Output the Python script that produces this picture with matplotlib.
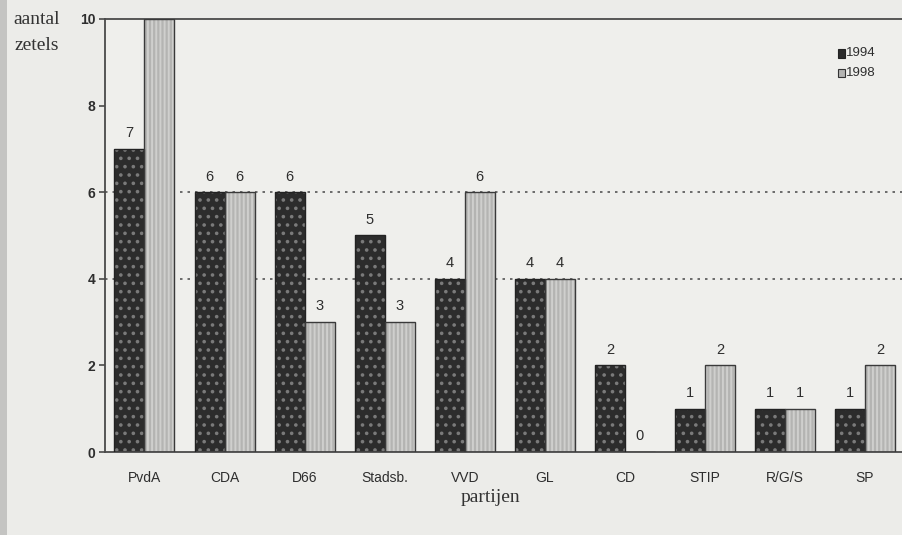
import numpy as np
import matplotlib
matplotlib.use("Agg")
import matplotlib.pyplot as plt
from matplotlib.patches import Rectangle

# seats per party, gemeenteraad 1994 vs 1998
partijen = ["PvdA", "CDA", "D66", "Stadsb.", "VVD", "GL", "CD", "STIP", "R/G/S", "SP"]
zetels_1994 = [7, 6, 6, 5, 4, 4, 2, 1, 1, 1]
zetels_1998 = [10, 6, 3, 3, 6, 4, 0, 2, 1, 2]
yticks = [0, 2, 4, 6, 8, 10]

bg = "#ecece9"
dark = "#2c2c2c"
light = "#b4b4b2"
line = "#4a4a4a"
txt = "#2e2e2e"

plt.rcParams["font.family"] = ["Liberation Sans", "DejaVu Sans"]
plt.rcParams["hatch.linewidth"] = 1.4

fig = plt.figure(figsize=(9.03, 5.35), dpi=100, facecolor=bg)
ax = fig.add_axes([105 / 903, 1 - 452 / 535, 1 - 105 / 903, (452 - 19) / 535])
ax.set_facecolor("#efefec")

x = np.arange(len(partijen))
w = 0.375

# dotted grid lines (only 4 and 6 show in the scan)
for g in [4, 6]:
    ax.axhline(g, color="#555555", lw=1.2, ls=(0, (1.5, 3)), zorder=1)

# dark bars with light dots
ax.bar(x - w / 2, zetels_1994, w, color=dark, edgecolor="#7a7a7a", hatch="..", lw=0, zorder=2)
ax.bar(x - w / 2, zetels_1994, w, fill=False, edgecolor="#222222", lw=1.0, zorder=3)
# light bars with fine stripes
ax.bar(x + w / 2, zetels_1998, w, color=light, edgecolor="#cfcfcd", hatch="||||", lw=0, zorder=2)
ax.bar(x + w / 2, zetels_1998, w, fill=False, edgecolor="#3a3a3a", lw=1.0, zorder=3)

for xi, v in zip(x, zetels_1994):
    ax.text(xi - w / 2, v + 0.2, str(v), ha="center", va="bottom", fontsize=10.5, color=txt)
for xi, v in zip(x, zetels_1998):
    if v < 10:
        ax.text(xi + w / 2, v + 0.2, str(v), ha="center", va="bottom", fontsize=10.5, color=txt)

ax.set_xlim(-0.493, 9.474)
ax.set_ylim(0, 10)
ax.set_yticks(yticks)
ax.set_yticklabels([str(t) for t in yticks], fontsize=10, color=txt, fontweight="semibold")
ax.set_xticks(x)
ax.set_xticklabels(partijen, fontsize=10, color=txt)
ax.tick_params(axis="x", length=0, pad=14)
ax.tick_params(axis="y", length=4, width=1.2, color=line, pad=3)

for s in ["left", "top", "bottom"]:
    ax.spines[s].set_color(line)
    ax.spines[s].set_linewidth(1.3)
ax.spines["right"].set_visible(False)

# legend as small squares + text
ax.add_patch(Rectangle((0.918, 0.911), 0.009, 0.02, transform=ax.transAxes,
                       facecolor=dark, edgecolor="#222222", lw=0.8, zorder=4, clip_on=False))
ax.add_patch(Rectangle((0.918, 0.865), 0.009, 0.02, transform=ax.transAxes,
                       facecolor=light, edgecolor="#333333", lw=0.8, zorder=4, clip_on=False))
ax.text(0.928, 0.921, "1994", transform=ax.transAxes, fontsize=9.5, va="center", color=txt)
ax.text(0.928, 0.875, "1998", transform=ax.transAxes, fontsize=9.5, va="center", color=txt)

serif = ["Liberation Serif", "DejaVu Serif"]
fig.text(37 / 903, 1 - 20 / 535, "aantal", family=serif, fontsize=14, ha="center", va="center", color="#333333")
fig.text(37 / 903, 1 - 45 / 535, "zetels", family=serif, fontsize=14, ha="center", va="center", color="#333333")
fig.text(490 / 903, 1 - 497 / 535, "partijen", family=serif, fontsize=14, ha="center", va="center", color="#333333")

# scan shadow on the left edge
fig.patches.append(Rectangle((0, 0), 7 / 903, 1, transform=fig.transFigure,
                             facecolor="#c4c4c2", edgecolor="none", zorder=0))

fig.savefig("out.png", dpi=100, facecolor=bg)
